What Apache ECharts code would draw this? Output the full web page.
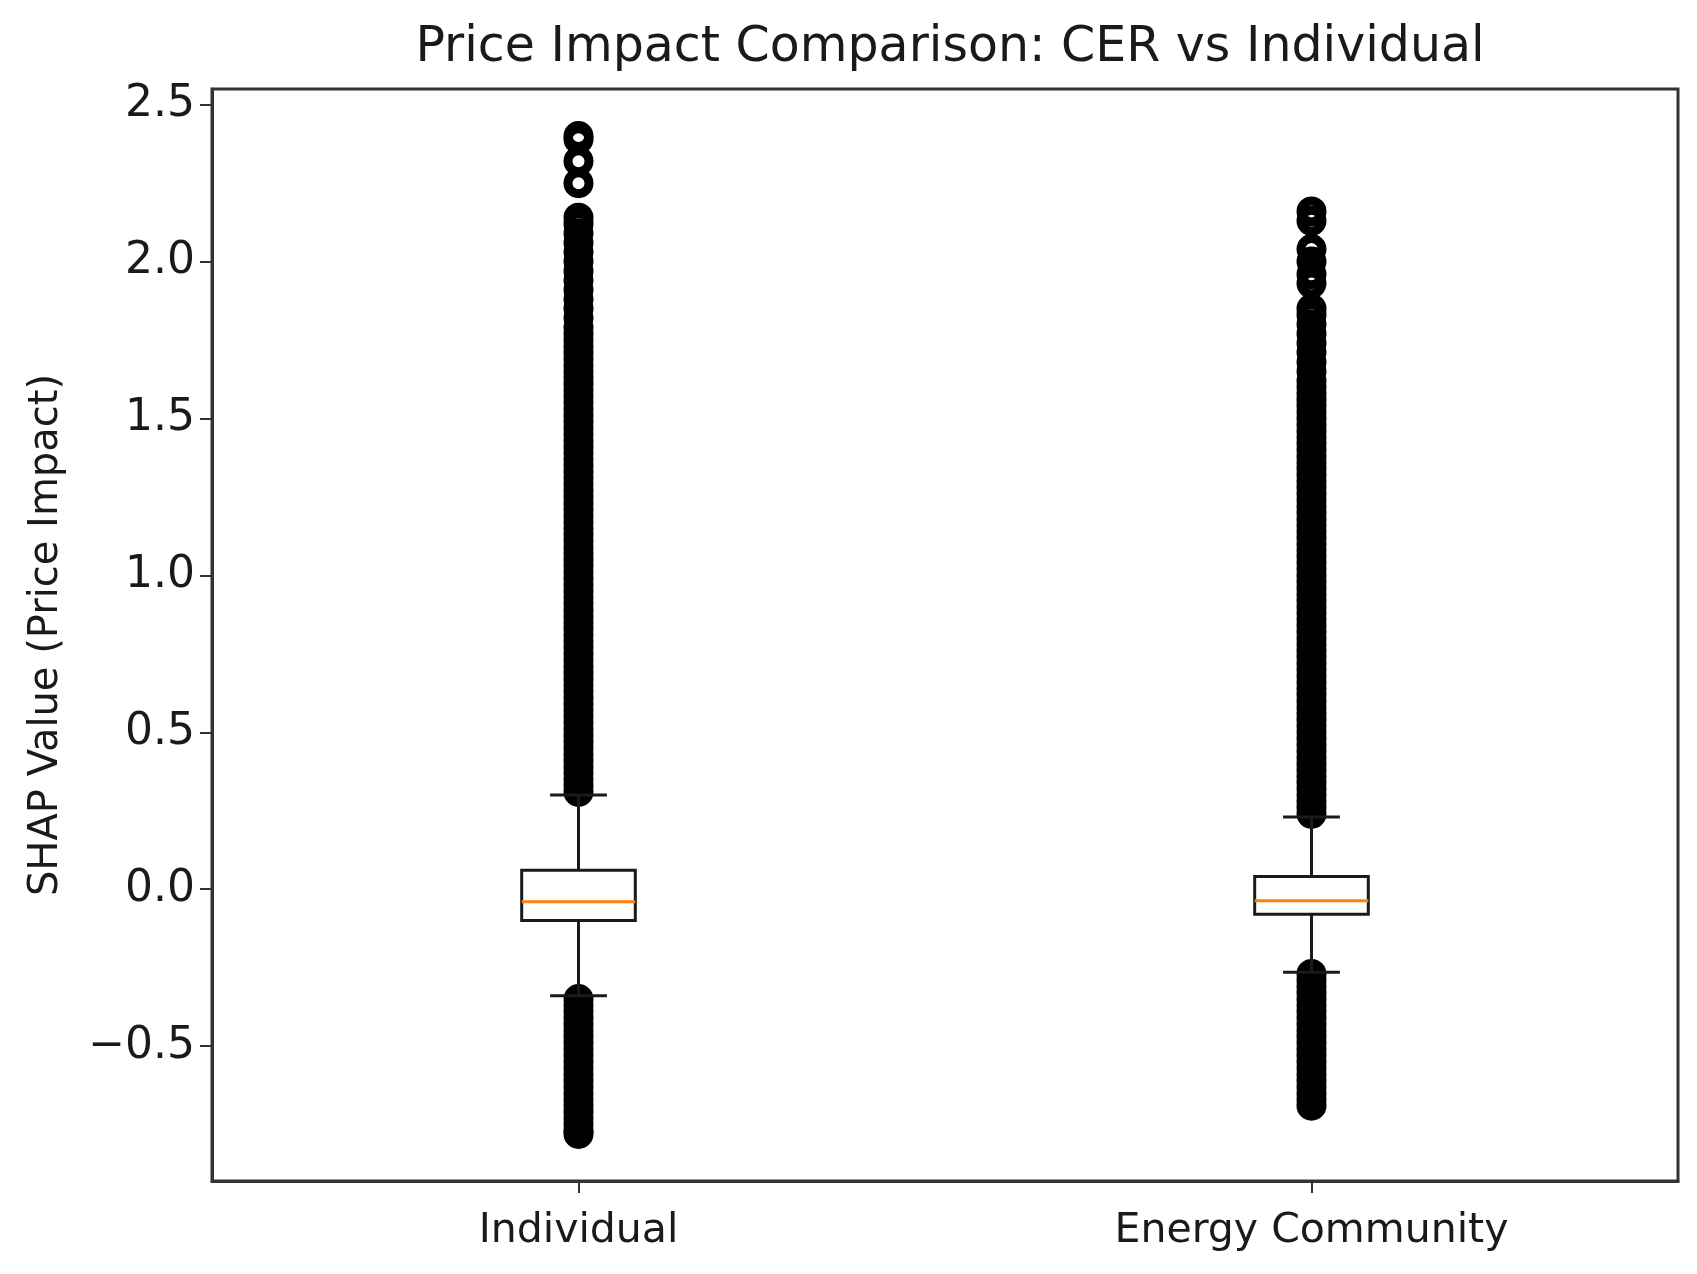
<!DOCTYPE html>
<html>
<head>
<meta charset="utf-8">
<title>Price Impact Comparison</title>
<script src="https://cdn.jsdelivr.net/npm/echarts@6/dist/echarts.min.js"></script>
<style>
    html, body { margin: 0; padding: 0; background: #fff; }
    #chart { width: 1697px; height: 1274px; }
</style>
</head>
<body>
<div id="chart"></div>
<script>
// categories
const categories = ['Individual', 'Energy Community'];

// box stats: [lower whisker, Q1, median, Q3, upper whisker]
const individualBox = [-0.34, -0.10, -0.04, 0.06, 0.30];
const communityBox = [-0.265, -0.08, -0.037, 0.04, 0.23];

// outliers
const individualHigh = [
    0.31, 0.33, 0.35, 0.37, 0.39, 0.41, 0.43, 0.45, 0.47, 0.49,
    0.51, 0.53, 0.55, 0.57, 0.59, 0.61, 0.63, 0.65, 0.67, 0.69,
    0.71, 0.73, 0.75, 0.77, 0.79, 0.81, 0.83, 0.85, 0.87, 0.89,
    0.91, 0.93, 0.95, 0.97, 0.99, 1.01, 1.03, 1.05, 1.07, 1.09,
    1.11, 1.13, 1.15, 1.17, 1.19, 1.21, 1.23, 1.25, 1.27, 1.29,
    1.31, 1.33, 1.35, 1.37, 1.39, 1.41, 1.43, 1.45, 1.47, 1.49,
    1.51, 1.53, 1.55, 1.57, 1.59, 1.61, 1.63, 1.65, 1.67, 1.69,
    1.71, 1.73, 1.75, 1.77, 1.79, 1.82, 1.85, 1.88, 1.91, 1.94,
    1.97, 2.00, 2.03, 2.06, 2.09, 2.12, 2.14,
    2.25, 2.32, 2.39, 2.40
];
const individualLow = [
    -0.35, -0.37, -0.39, -0.41, -0.43, -0.45, -0.47, -0.49, -0.51, -0.53,
    -0.55, -0.57, -0.59, -0.61, -0.63, -0.65, -0.67, -0.69, -0.71, -0.73,
    -0.75, -0.77, -0.78
];
const communityHigh = [
    0.24, 0.26, 0.28, 0.30, 0.32, 0.34, 0.36, 0.38, 0.40, 0.42,
    0.44, 0.46, 0.48, 0.50, 0.52, 0.54, 0.56, 0.58, 0.60, 0.62,
    0.64, 0.66, 0.68, 0.70, 0.72, 0.74, 0.76, 0.78, 0.80, 0.82,
    0.84, 0.86, 0.88, 0.90, 0.92, 0.94, 0.96, 0.98, 1.00, 1.02,
    1.04, 1.06, 1.08, 1.10, 1.12, 1.14, 1.16, 1.18, 1.20, 1.22,
    1.24, 1.26, 1.28, 1.30, 1.32, 1.34, 1.36, 1.38, 1.40, 1.42,
    1.44, 1.46, 1.48, 1.50, 1.52, 1.54, 1.56, 1.58, 1.60, 1.62,
    1.65, 1.68, 1.71, 1.74, 1.77, 1.80, 1.83, 1.85,
    1.93, 1.96, 2.00, 2.04, 2.13, 2.16
];
const communityLow = [
    -0.27, -0.29, -0.31, -0.33, -0.35, -0.37, -0.39, -0.41, -0.43, -0.45,
    -0.47, -0.49, -0.51, -0.53, -0.55, -0.57, -0.59, -0.61, -0.63, -0.65,
    -0.67, -0.69
];

// y axis ticks
const yTicks = [-0.5, 0.0, 0.5, 1.0, 1.5, 2.0, 2.5];

const FONT = '"DejaVu Sans", sans-serif';
const BOX_WIDTH = 0.155;   // fraction of the category band

let chart = null;

function buildFliers() {
    const pts = [];
    individualHigh.concat(individualLow).forEach(v => pts.push([0, v]));
    communityHigh.concat(communityLow).forEach(v => pts.push([1, v]));
    return pts;
}

// matplotlib style box: box, orange median, whiskers, half-width caps
function renderBox(params, api) {
    const idx = api.value(0);
    const band = api.size([1, 0])[0];
    const half = band * BOX_WIDTH / 2;
    const cap = half / 2;
    const x = api.coord([idx, 0])[0];
    const yLo = api.coord([idx, api.value(1)])[1];
    const yQ1 = api.coord([idx, api.value(2)])[1];
    const yMed = api.coord([idx, api.value(3)])[1];
    const yQ3 = api.coord([idx, api.value(4)])[1];
    const yHi = api.coord([idx, api.value(5)])[1];
    const line = { stroke: '#1a1a1a', lineWidth: 3 };
    return {
        type: 'group',
        children: [
            { type: 'line', shape: { x1: x, y1: yQ1, x2: x, y2: yLo }, style: line },
            { type: 'line', shape: { x1: x, y1: yQ3, x2: x, y2: yHi }, style: line },
            { type: 'line', shape: { x1: x - cap, y1: yLo, x2: x + cap, y2: yLo }, style: line },
            { type: 'line', shape: { x1: x - cap, y1: yHi, x2: x + cap, y2: yHi }, style: line },
            {
                type: 'rect',
                shape: { x: x - half, y: yQ3, width: half * 2, height: yQ1 - yQ3 },
                style: { fill: 'none', stroke: '#1a1a1a', lineWidth: 3 }
            },
            {
                type: 'line',
                shape: { x1: x - half, y1: yMed, x2: x + half, y2: yMed },
                style: { stroke: '#ff7f0e', lineWidth: 3 }
            }
        ]
    };
}

function renderChart() {
    chart = echarts.init(document.getElementById('chart'));

    const option = {
        animation: false,
        backgroundColor: '#fff',
        title: {
            text: 'Price Impact Comparison: CER vs Individual',
            left: 945,
            top: 19,
            textAlign: 'center',
            textStyle: { fontFamily: FONT, fontSize: 49, fontWeight: 'normal', color: '#1a1a1a' }
        },
        grid: {
            left: 212,
            right: 19,
            top: 89,
            bottom: 93,
            show: true,
            borderColor: '#333',
            borderWidth: 3,
            backgroundColor: 'transparent'
        },
        xAxis: {
            type: 'category',
            data: categories,
            boundaryGap: true,
            axisLine: { show: true, onZero: false, lineStyle: { color: '#333', width: 3 } },
            axisTick: { show: true, alignWithLabel: true, length: 12, lineStyle: { color: '#333', width: 2 } },
            axisLabel: { fontFamily: FONT, fontSize: 41, color: '#1a1a1a', margin: 30 },
            splitLine: { show: false }
        },
        yAxis: {
            type: 'value',
            min: -0.93,
            max: 2.55,
            name: 'SHAP Value (Price Impact)',
            nameLocation: 'middle',
            nameGap: 145,
            nameRotate: 90,
            nameTextStyle: { fontFamily: FONT, fontSize: 40, color: '#1a1a1a' },
            axisLine: { show: true, lineStyle: { color: '#333', width: 3 } },
            axisTick: { show: true, length: 12, customValues: yTicks, lineStyle: { color: '#333', width: 2 } },
            axisLabel: {
                customValues: yTicks,
                fontFamily: FONT,
                fontSize: 44,
                color: '#1a1a1a',
                margin: 17,
                formatter: v => (v < 0 ? '\u2212' : '') + Math.abs(v).toFixed(1)
            },
            splitLine: { show: false }
        },
        series: [
            {
                name: 'fliers',
                type: 'scatter',
                data: buildFliers(),
                symbol: 'circle',
                symbolSize: 21,
                itemStyle: { color: 'transparent', borderColor: '#000', borderWidth: 9, opacity: 1 },
                z: 2
            },
            {
                name: 'boxes',
                type: 'custom',
                renderItem: renderBox,
                data: [
                    [0].concat(individualBox),
                    [1].concat(communityBox)
                ],
                z: 3
            }
        ]
    };

    chart.setOption(option);
}

document.addEventListener('DOMContentLoaded', renderChart);
</script>
</body>
</html>
